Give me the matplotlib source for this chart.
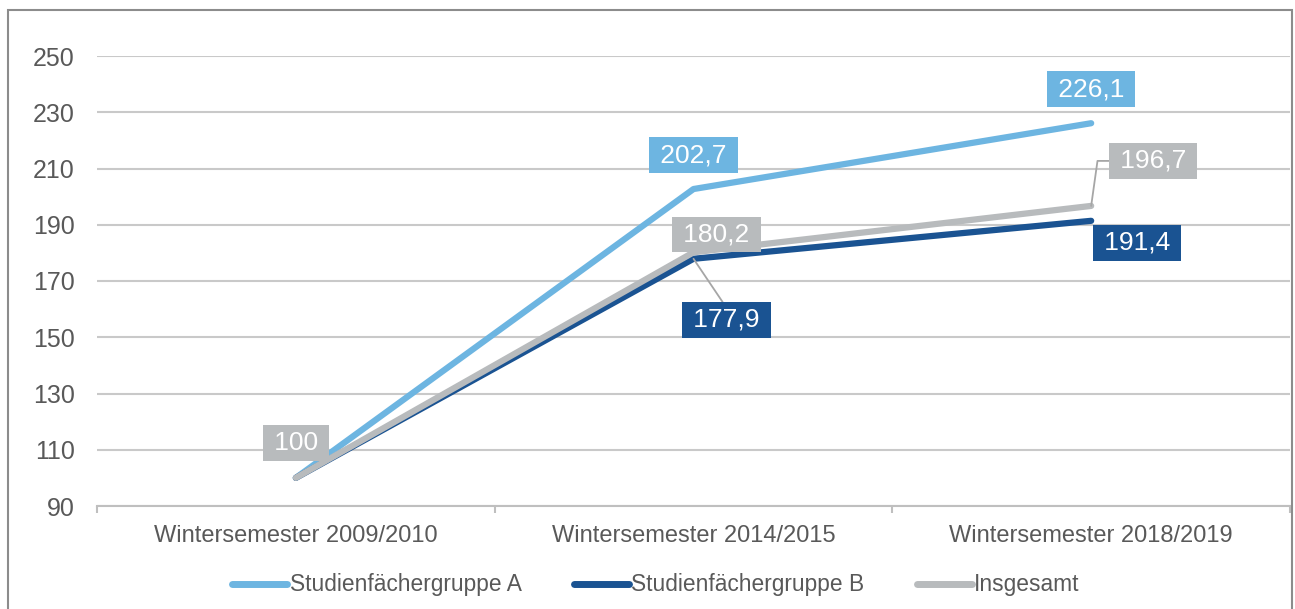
import matplotlib.pyplot as plt
from matplotlib.lines import Line2D
from matplotlib.patches import Rectangle

plt.rcParams['font.family'] = ['Liberation Sans', 'DejaVu Sans']

semester = ['Wintersemester 2009/2010', 'Wintersemester 2014/2015', 'Wintersemester 2018/2019']
gruppe_a = [100, 202.7, 226.1]
gruppe_b = [100, 177.9, 191.4]
insgesamt = [100, 180.2, 196.7]
namen = ['Studienfächergruppe A', 'Studienfächergruppe B', 'Insgesamt']
yticks = [90, 110, 130, 150, 170, 190, 210, 230, 250]

c_a = '#6DB5E1'
c_b = '#1A5392'
c_g = '#B8BBBD'
c_txt = '#595959'

fig = plt.figure(figsize=(12.95, 6.09), dpi=100)
ax = fig.add_axes([97/1295, 103/609, 1193/1295, 450/609])

x = list(range(len(semester)))
ax.plot(x, gruppe_a, color=c_a, lw=4.5, solid_capstyle='round', zorder=3)
ax.plot(x, gruppe_b, color=c_b, lw=4.5, solid_capstyle='round', zorder=3)
ax.plot(x, insgesamt, color=c_g, lw=4.5, solid_capstyle='round', zorder=3)

ax.set_xlim(-0.5, 2.5)
ax.set_ylim(90, 250)
ax.set_yticks(yticks)
ax.set_xticks(x)
ax.set_xticklabels(semester)
ax.set_xticks([-0.5, 0.5, 1.5, 2.5], minor=True)
for s in ['left', 'top', 'right']:
    ax.spines[s].set_visible(False)
ax.spines['bottom'].set_color('#BFBFBF')
ax.spines['bottom'].set_linewidth(1.5)
ax.yaxis.grid(True, color='#C9C9C9', lw=1.5)
ax.set_axisbelow(True)
ax.tick_params(axis='y', length=0, pad=16, labelsize=18, labelcolor=c_txt)
ax.tick_params(axis='x', which='major', length=0, pad=14, labelsize=17, labelcolor=c_txt)
ax.tick_params(axis='x', which='minor', length=5, width=1.5, color='#BFBFBF', direction='out')


def fmt(v):
    return '\u2009' + ('%g' % v).replace('.', ',') + '\u2009'


def label(i, v, col, dx, dy, arrow=None):
    ax.annotate(fmt(v), xy=(i, v), xytext=(dx, dy), textcoords='offset pixels',
                ha='center', va='center', color='white', fontsize=19, zorder=5,
                bbox=dict(boxstyle='square,pad=0.22', fc=col, ec='none'),
                arrowprops=arrow)


lead = dict(arrowstyle='-', color='#A6A6A6', lw=1.3, shrinkA=0, shrinkB=0)
label(0, insgesamt[0], c_g, 0, 35)
label(1, gruppe_a[1], c_a, 0, 34)
label(1, insgesamt[1], c_g, 23, 18)
label(1, gruppe_b[1], c_b, 33, -61, dict(lead, relpos=(0.5, 1.0)))
label(2, gruppe_a[2], c_a, 0, 34)
label(2, insgesamt[2], c_g, 62, 45,
      dict(lead, relpos=(0.0, 0.5), connectionstyle='angle,angleA=0,angleB=82,rad=0'))
label(2, gruppe_b[2], c_b, 46, -22)

handles = [Line2D([], [], color=c, lw=5, solid_capstyle='round') for c in (c_a, c_b, c_g)]
fig.legend(handles, namen, loc='center', bbox_to_anchor=(656/1295, 24/609), ncol=3,
           frameon=False, handlelength=2.4, handletextpad=0.12, columnspacing=2.3,
           prop=dict(family=['Liberation Sans Narrow', 'Liberation Sans'], size=16.4),
           labelcolor=c_txt)

fig.add_artist(Rectangle((8/1295, -0.05), 1284/1295, 599/609 + 0.05, transform=fig.transFigure,
                         fill=False, ec='#8C8C8C', lw=1.5))

fig.savefig('out.png', dpi=100)
